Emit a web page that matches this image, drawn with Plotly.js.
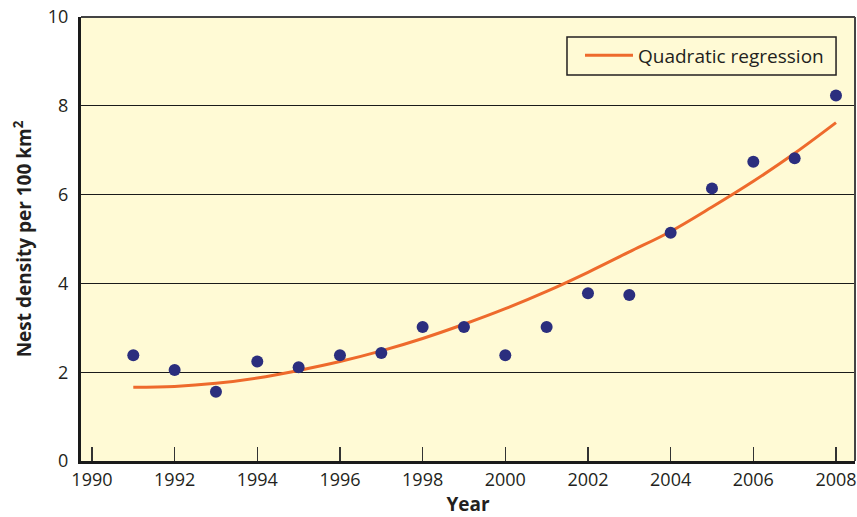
<!DOCTYPE html>
<html>
<head>
<meta charset="utf-8">
<script src="https://cdn.plot.ly/plotly-3.0.1.min.js"></script>
<style>
  html, body { margin: 0; padding: 0; background: #ffffff; }
  #chart { width: 857px; height: 517px; }
</style>
</head>
<body>
<div id="chart"></div>
<script>
// Observed nest density per year
var years = [1991, 1992, 1993, 1994, 1995, 1996, 1997, 1998, 1999, 2000, 2001, 2002, 2003, 2004, 2005, 2006, 2007, 2008];
var density = [2.38, 2.05, 1.56, 2.24, 2.11, 2.38, 2.43, 3.02, 3.02, 2.38, 3.02, 3.78, 3.74, 5.14, 6.14, 6.74, 6.82, 8.23];

// Quadratic regression curve
var fitYears = [1991, 1992, 1993, 1994, 1995, 1996, 1997, 1998, 1999, 2000, 2001, 2002, 2003, 2004, 2005, 2006, 2007, 2008];
var fitValues = [1.66, 1.68, 1.75, 1.87, 2.04, 2.24, 2.48, 2.76, 3.08, 3.43, 3.82, 4.25, 4.71, 5.17, 5.72, 6.30, 6.93, 7.62];

// Axis ticks
var xTickVals = [1990, 1992, 1994, 1996, 1998, 2000, 2002, 2004, 2006, 2008];
var xTickText = ['1990', '1992', '1994', '1996', '1998', '2000', '2002', '2004', '2006', '2008'];
var yTickVals = [0, 2, 4, 6, 8, 10];
var yTickText = ['0', '2', '4', '6', '8', '10'];

var FONT = '"Open Sans", "Noto Sans", sans-serif';
var TEXT = '#231f20';

var traces = [
  {
    x: fitYears, y: fitValues,
    type: 'scatter', mode: 'lines',
    name: 'Quadratic regression',
    line: { color: '#ee6a2c', width: 3, shape: 'spline', smoothing: 1 },
    hoverinfo: 'skip'
  },
  {
    x: years, y: density,
    type: 'scatter', mode: 'markers',
    name: 'Nest density',
    showlegend: false,
    marker: { color: '#2b2e7e', size: 12, line: { width: 0 } }
  }
];

var layout = {
  width: 857, height: 517,
  margin: { l: 81, r: 2, t: 17, b: 56 },
  paper_bgcolor: '#ffffff',
  plot_bgcolor: '#fffad5',
  font: { family: FONT, color: TEXT, size: 18 },
  showlegend: true,
  legend: {
    x: 0.6447, xanchor: 'left',
    y: 0.9565, yanchor: 'top',
    bgcolor: 'rgba(0,0,0,0)',
    borderwidth: 0,
    font: { family: FONT, size: 19, color: TEXT },
    itemwidth: 48
  },
  xaxis: {
    range: [1989.735, 2008.46],
    tickmode: 'array', tickvals: xTickVals, ticktext: xTickText,
    ticks: 'inside', ticklen: 14, tickwidth: 1.5, tickcolor: '#333333',
    showgrid: false, zeroline: false,
    showline: true, linecolor: '#1a1a1a', linewidth: 3,
    tickfont: { family: FONT, size: 18, color: TEXT },
    title: { text: '<b>Year</b>', font: { family: FONT, size: 19, color: TEXT }, standoff: 8 },
    fixedrange: true
  },
  yaxis: {
    range: [0, 10],
    tickmode: 'array', tickvals: yTickVals, ticktext: yTickText,
    ticks: '', ticklabelstandoff: 6,
    showgrid: true, gridcolor: '#1a1a1a', gridwidth: 1.2,
    zeroline: false,
    showline: true, linecolor: '#1a1a1a', linewidth: 3,
    tickfont: { family: FONT, size: 18, color: TEXT },
    title: { text: '<b>Nest density per 100 km<sup>2</sup></b>', font: { family: FONT, size: 19, color: TEXT }, standoff: 12 },
    fixedrange: true
  },
  shapes: [
    { type: 'line', xref: 'paper', yref: 'paper', x0: 0, x1: 1, y0: 1, y1: 1,
      line: { color: '#444444', width: 2 } },
    { type: 'line', xref: 'paper', yref: 'paper', x0: 1, x1: 1, y0: 0, y1: 1,
      line: { color: '#444444', width: 2 } },
    // legend frame
    { type: 'rect', xref: 'paper', yref: 'paper', x0: 0.6279, x1: 0.9755, y0: 0.8694, y1: 0.955,
      line: { color: '#231f20', width: 1.5 }, fillcolor: 'rgba(0,0,0,0)' }
  ]
};

Plotly.newPlot('chart', traces, layout, { displayModeBar: false, staticPlot: true });
</script>
</body>
</html>
